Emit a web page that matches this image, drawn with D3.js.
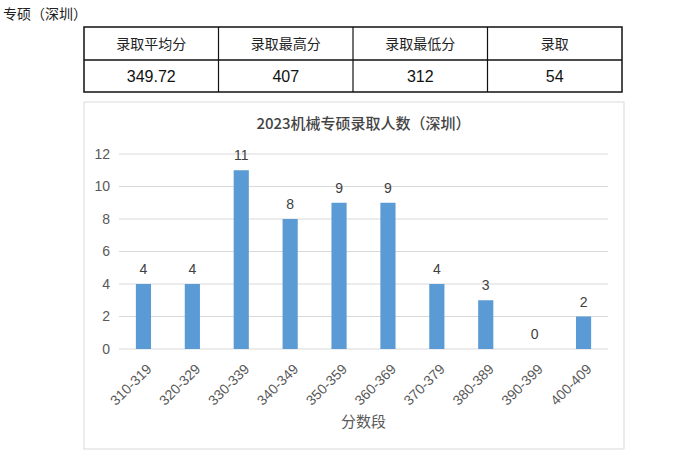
<!DOCTYPE html>
<html><head><meta charset="utf-8">
<script src="https://cdn.jsdelivr.net/npm/d3@7"></script>
<style>body{margin:0;background:#fff}</style>
</head><body>
<script>
const categories = ["310-319","320-329","330-339","340-349","350-359","360-369","370-379","380-389","390-399","400-409"];
const counts = [4,4,11,8,9,9,4,3,0,2];
const yTicks = [0,2,4,6,8,10,12];
const tableHeaders = ["录取平均分","录取最高分","录取最低分","录取"];
const tableValues = ["349.72","407","312","54"];
const pageTitle = "专硕（深圳）";
const chartTitle = "2023机械专硕录取人数（深圳）";
const xTitle = "分数段";

const W = 692, H = 467;
const svg = d3.select("body").append("svg").attr("width", W).attr("height", H);
const cjk = "'Noto Sans CJK SC', sans-serif";
const latin = "'Liberation Sans', Arial, sans-serif";

svg.append("text").attr("x", 3).attr("y", 19).attr("font-family", cjk).attr("font-size", 14)
  .attr("fill", "#222").text(pageTitle);

// table
const colX = d3.scaleBand().domain(d3.range(4)).range([84, 622]);
const tg = svg.append("g");
tg.append("rect").attr("x", 84).attr("y", 27).attr("width", 538).attr("height", 65)
  .attr("fill", "none").attr("stroke", "#111").attr("stroke-width", 1.5);
tg.append("line").attr("x1", 84).attr("x2", 622).attr("y1", 60).attr("y2", 60).attr("stroke", "#111").attr("stroke-width", 1.5);
[1,2,3].forEach(i => tg.append("line").attr("x1", colX(i)).attr("x2", colX(i)).attr("y1", 27).attr("y2", 92).attr("stroke", "#111").attr("stroke-width", 1.2));
tableHeaders.forEach((t, i) => tg.append("text").attr("x", colX(i) + colX.bandwidth()/2).attr("y", 49)
  .attr("text-anchor", "middle").attr("font-family", cjk).attr("font-size", 14).attr("fill", "#222").text(t));
tableValues.forEach((t, i) => tg.append("text").attr("x", colX(i) + colX.bandwidth()/2).attr("y", 82)
  .attr("text-anchor", "middle").attr("font-family", latin).attr("font-size", 16).attr("fill", "#111").text(t));

// chart frame
svg.append("rect").attr("x", 84).attr("y", 102).attr("width", 540).attr("height", 347)
  .attr("fill", "none").attr("stroke", "#d9d9d9").attr("stroke-width", 1);

svg.append("text").attr("x", 363.5).attr("y", 129).attr("text-anchor", "middle")
  .attr("font-family", cjk).attr("font-size", 15).attr("font-weight", 500).attr("fill", "#444").text(chartTitle);

const x = d3.scaleBand().domain(categories).range([119, 608]).paddingInner(0.69).paddingOuter(0.345);
const y = d3.scaleLinear().domain([0, 12]).range([349, 154]);

const grid = svg.append("g");
yTicks.forEach(t => grid.append("line").attr("x1", 119).attr("x2", 608).attr("y1", y(t)).attr("y2", y(t))
  .attr("stroke", "#d9d9d9").attr("stroke-width", 1));

const yAxis = svg.append("g").attr("transform", "translate(119,0)")
  .call(d3.axisLeft(y).tickValues(yTicks).tickSize(0).tickPadding(9));
yAxis.select(".domain").remove();
yAxis.selectAll("text").attr("font-family", latin).attr("font-size", 14).attr("fill", "#595959");

svg.append("g").selectAll("rect").data(categories).join("rect")
  .attr("x", d => x(d)).attr("width", x.bandwidth())
  .attr("y", (d, i) => y(counts[i])).attr("height", (d, i) => y(0) - y(counts[i]))
  .attr("fill", "#5b9bd5");

svg.append("g").selectAll("text").data(categories).join("text")
  .attr("x", d => x(d) + x.bandwidth()/2).attr("y", (d, i) => y(counts[i]) - 10)
  .attr("text-anchor", "middle").attr("font-family", latin).attr("font-size", 14).attr("fill", "#404040")
  .text((d, i) => counts[i]);

const xAxis = svg.append("g").attr("transform", "translate(0,349)")
  .call(d3.axisBottom(x).tickSize(0).tickPadding(0));
xAxis.select(".domain").remove();
xAxis.selectAll("text").attr("font-family", latin).attr("font-size", 14).attr("fill", "#595959")
  .attr("text-anchor", "end").attr("dy", 0)
  .attr("transform", "translate(9,21) rotate(-45)");

svg.append("text").attr("x", 363.5).attr("y", 427).attr("text-anchor", "middle")
  .attr("font-family", cjk).attr("font-size", 15).attr("fill", "#595959").text(xTitle);
</script>
</body></html>
